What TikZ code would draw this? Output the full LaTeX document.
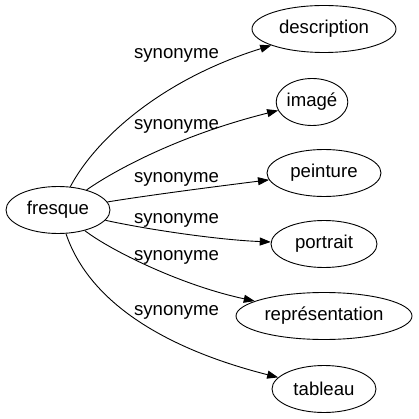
\documentclass[tikz,border=0pt]{standalone}
\usepackage{fontspec}
\setmainfont{Liberation Sans}
\usetikzlibrary{arrows.meta,shapes.geometric}
\begin{document}
\begin{tikzpicture}[x=1pt,y=-1pt,
  word/.style={draw,ellipse,line width=0.9pt,inner sep=0pt,minimum height=47pt,font=\fontsize{18.6}{20}\selectfont},
  lab/.style={font=\fontsize{18.6}{20}\selectfont,inner sep=0pt,anchor=base},
  edge/.style={line width=0.9pt,-{Triangle[length=11pt,width=8pt]}}]
\useasboundingbox (0,0) rectangle (418,419);
\node[word,minimum width=104pt] (f) at (58,210) {fresque};
\node[word,minimum width=144pt] (d) at (324,29) {description};
\node[word,minimum width=70pt] (i) at (312,102) {imagé};
\node[word,minimum width=114pt] (p) at (324,173) {peinture};
\node[word,minimum width=106pt] (o) at (324,244) {portrait};
\node[word,minimum width=176pt] (r) at (324,316) {représentation};
\node[word,minimum width=104pt] (t) at (324,389) {tableau};
\draw[edge] (f) .. controls (95,140) and (160,80) .. (d);
\draw[edge] (f) .. controls (115,170) and (180,135) .. (i);
\draw[edge] (f) .. controls (150,195) and (220,186) .. (p);
\draw[edge] (f) .. controls (150,230) and (220,240) .. (o);
\draw[edge] (f) .. controls (110,250) and (180,285) .. (r);
\draw[edge] (f) .. controls (90,305) and (170,350) .. (t);
\node[lab] (l1) at (176.5,59) {synonyme};
\node[lab] (l2) at (176.5,130) {synonyme};
\node[lab] (l3) at (176.5,183) {synonyme};
\node[lab] (l4) at (176.5,223) {synonyme};
\node[lab] (l5) at (176.5,260) {synonyme};
\node[lab] (l6) at (176.5,315) {synonyme};
\end{tikzpicture}
\end{document}
